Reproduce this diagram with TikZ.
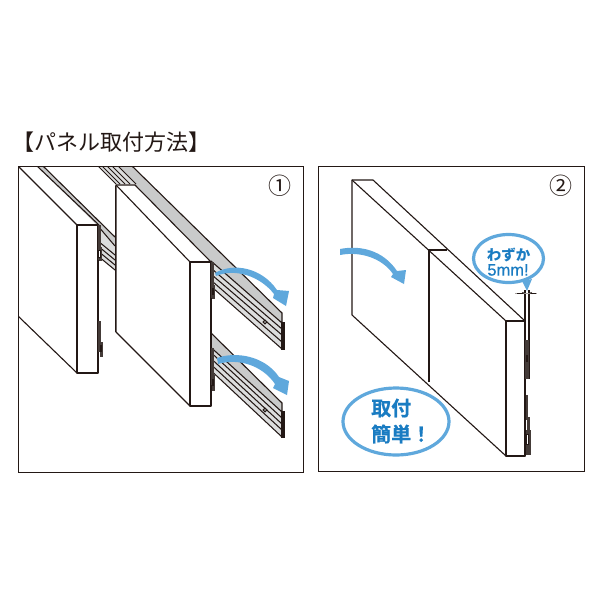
\documentclass[tikz,border=0pt]{standalone}
\usepackage{fontspec}
\usetikzlibrary{arrows.meta}
\setmainfont{Noto Sans CJK JP}
\newfontfamily\latinbold[FakeBold=0.4]{Liberation Sans}
\newfontfamily\heavy[FakeBold=0.6,UprightFont=* Bold]{Noto Sans CJK JP}
\definecolor{ink}{HTML}{231815}
\definecolor{bandgray}{HTML}{C9CACA}
\definecolor{ribgray}{HTML}{DCDDDD}
\definecolor{bubble}{HTML}{5FA8DC}
\definecolor{bubbletext}{HTML}{1A7CC2}
\tikzset{
  frameline/.style={draw=ink,line width=0.9pt},
  panelline/.style={draw=ink,line width=1.1pt,fill=white,line join=round},
  edgeline/.style={draw=ink,line width=1.1pt},
  railfill/.style={fill=bandgray,draw=none},
  ribfill/.style={fill=ribgray,draw=none},
  ribline/.style={draw=ink,line width=1.05pt},
  clipdark/.style={fill=ink!85,draw=none},
  clipwhite/.style={fill=white,draw=ink,line width=0.3pt},
  bubbleline/.style={draw=bubble,line width=3.2pt,fill=white},
  arrowblue/.style={fill=bubble,draw=none},
  bubbletxt/.style={text=bubbletext,inner sep=0pt,align=center},
  titletxt/.style={text=ink,inner sep=0pt,anchor=west,font=\fontsize{22}{24}\selectfont},
  numtxt/.style={text=ink,inner sep=0pt,font=\fontsize{23}{24}\selectfont}
}
\begin{document}
\begin{tikzpicture}[x=1pt,y=-1pt]
\useasboundingbox (0,0) rectangle (600,600);
\fill[white] (0,0) rectangle (600,600);
\node[titletxt] (title) at (12.7,142) {【パネル取付方法】};

% ---------- panel 1
\begin{scope}
\clip (18,166) rectangle (303,472);
% rear rail band behind the left panel
\path[railfill] (37,166) -- (43,166) -- (115,237) -- (115,246) -- (98,226) -- cycle;
\path[ribfill] (98,226) -- (115,246) -- (115,270) -- (98,256) -- cycle;
\draw[edgeline] (37,166) -- (100,226);
\draw[edgeline] (43,166) -- (115,237);
\foreach \a in {241,246,251,256}{\draw[ribline] (98,\a) -- (115,\a+14);}
\draw[ribline] (98,226) -- (115,246);
% upper-left end of the top rail
\path[railfill] (118,166) -- (132,166) -- (282,313) -- (282,323) -- (211,261) -- (135,185) -- cycle;
\path[ribfill] (98,166) -- (118,166) -- (136,184) -- (116,184) -- cycle;
\path[ribfill] (205,256) -- (282,323) -- (282,349) -- (205,281) -- cycle;
\foreach \a in {98,102,107,112,118}{\draw[ribline] (\a,166) -- (\a+18,184);}
\draw[edgeline] (132,166) -- (282,313) -- (282,323) -- (211,261);
\foreach \b/\c in {268/329,274/335,280/342,286/349}{\draw[ribline] (205,\b-5) -- (282,\c);}
\draw[edgeline,fill=ribgray] (282,323) -- (284,323) -- (284,349) -- (282,349) -- cycle;
\draw[ribline] (282,323) -- (282,349);
\draw[ribline,fill=bandgray] (265,322) circle (1.8);
% lower rail
\path[railfill] (205,327) -- (282,403) -- (282,412) -- (205,342) -- cycle;
\path[ribfill] (205,342) -- (282,412) -- (282,437) -- (205,365) -- cycle;
\draw[edgeline] (205,327) -- (282,403) -- (282,412) -- (205,342);
\foreach \b/\c in {352/418,358/424,364/430,370/437}{\draw[ribline] (205,\b-5) -- (282,\c);}
\draw[edgeline,fill=ribgray] (282,412) -- (284,412) -- (284,437) -- (282,437) -- cycle;
\draw[ribline] (282,412) -- (282,437);
\draw[ribline,fill=bandgray] (265,410) circle (1.8);
% left panel
\path[panelline] (18,166) -- (77,225) -- (77,373) -- (18,316);
\path[panelline] (77,225) rectangle (98,373);
\draw[edgeline] (116,332) -- (116,186);
% clips, left panel
\path[clipdark] (98,225) rectangle (101,260);
\path[clipdark] (99,247) rectangle (102,261);
\path[clipwhite] (98.5,250) rectangle (100,257);
\path[clipdark] (98,321) rectangle (101,352);
\path[clipdark] (100,342) rectangle (103,357);
\path[clipwhite] (100,345) rectangle (101.5,351);
% middle panel
\path[panelline] (135,185) -- (116,185) -- (116,332) -- (190,406) -- (190,262) -- (211,262) -- cycle;
\draw[edgeline] (116,185) -- (190,262);
\path[panelline] (190,262) rectangle (211,406);
% clips, middle panel
\path[clipdark] (211,262) rectangle (214,298);
\path[clipdark] (212,285) rectangle (215,299);
\path[clipwhite] (212,288) rectangle (213.5,294);
\path[clipdark] (211,348) rectangle (214,385);
\path[clipdark] (212,375) rectangle (215,391);
\path[clipwhite] (212,379) rectangle (213.5,385);
\end{scope}
% arrows of panel 1
\path[arrowblue] (215,273) .. controls (234,262) and (262,268) .. (277,290) -- (289,291) -- (286,306) -- (273,298) -- (274,294)
  .. controls (260,276) and (235,268) .. (216,276) -- cycle;
\path[arrowblue] (217,358) .. controls (236,351) and (265,356) .. (279,377) -- (289,381) -- (287,395) -- (273,388) -- (275,384)
  .. controls (262,365) and (238,358) .. (218,364) -- cycle;
\path[frameline] (18,166) rectangle (303,472);
\node[numtxt] (one) at (280,186) {①};

% ---------- panel 2
\path[panelline] (352,180) -- (373,180) -- (525,321) -- (525,456) -- (506,456) -- (352,315) -- cycle;
\draw[edgeline] (352,180) -- (506,321);
\draw[edgeline] (429,382) -- (429,250) -- (447,250);
\path[panelline] (506,321) rectangle (525,456);
% gap marks
\draw[edgeline] (525,290) -- (525,321);
\draw[edgeline] (529,290) -- (529,379);
\draw[draw=ink!40,line width=0.6pt] (515,293) -- (537,293);
\draw[ink,line width=0.6pt,-{Stealth[length=3pt,width=2pt]}] (517,293) -- (525,293);
\draw[ink,line width=0.6pt,-{Stealth[length=3pt,width=2pt]}] (536,293) -- (529,293);
% clips, right panel
\path[clipdark] (525,340) rectangle (529,379);
\path[clipwhite] (526,355) rectangle (527.5,361);
\path[clipdark] (526,395) rectangle (528,420);
\path[clipdark] (527,417) rectangle (530,431);
\path[clipdark] (526,430) rectangle (531,455);
\path[clipwhite] (526.5,434) rectangle (528,444);
% arrow of panel 2
\path[arrowblue] (340,249) .. controls (360,245) and (383,250) .. (397,271) -- (406,270) -- (404,284) -- (391,277) -- (393,274)
  .. controls (382,258) and (360,251) .. (340,255) -- cycle;
\path[frameline] (318,166) rectangle (584,471);
\node[numtxt] (two) at (561,186) {②};

% ---------- bubbles
\path[bubbleline] (508.5,258.5) ellipse [x radius=35,y radius=24];
\path[fill=bubble] (522,281) -- (527,291) -- (532,279) -- cycle;
\node[bubbletxt,font=\fontsize{14.5}{15}\bfseries] (a1) at (508.5,254.5) {わずか};
\node[bubbletxt,font=\fontsize{16.5}{17}\latinbold] (a2) at (508,270) {5mm!};
\path[bubbleline] (396,421.5) ellipse [x radius=53,y radius=33.5];
\node[bubbletxt,font=\fontsize{20}{21}\heavy,anchor=west] (b1) at (371,408) {取付};
\node[bubbletxt,font=\fontsize{20}{21}\heavy,anchor=west] (b2) at (371,434) {簡単！};
\end{tikzpicture}
\end{document}
